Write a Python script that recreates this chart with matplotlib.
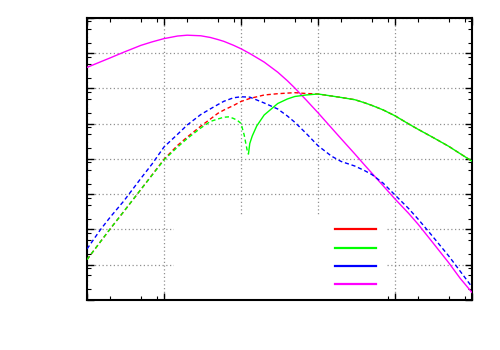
import numpy as np
import matplotlib
matplotlib.use("Agg")
import matplotlib.pyplot as plt
from matplotlib.lines import Line2D
from matplotlib.patches import Rectangle
from matplotlib.ticker import LogLocator, NullFormatter

# shared x values (red, blue, magenta)
x = [1, 1.5, 2, 3, 5, 7, 10, 15, 20, 30, 40, 50, 60, 80, 100, 130, 200, 300,
     400, 500, 700, 1000, 1500, 2000, 3000, 4000, 5000, 7000, 10000, 15000,
     20000, 30000, 50000, 70000, 100000]

red_y = [1.40e-5, 4.54e-5, 1.04e-4, 3.22e-4, 1.36e-3, 3.54e-3, 9.79e-3, 0.0243,
         0.0418, 0.0851, 0.136, 0.197, 0.245, 0.330, 0.428, 0.520, 0.654, 0.711,
         0.740, 0.760, 0.721, 0.698, 0.612, 0.556, 0.481, 0.395, 0.332, 0.247,
         0.168, 0.0991, 0.0692, 0.0427, 0.0228, 0.0142, 0.00867]

blue_y = [2.80e-5, 1.00e-4, 2.23e-4, 6.40e-4, 2.80e-3, 7.21e-3, 0.0219, 0.0502,
          0.092, 0.182, 0.264, 0.349, 0.434, 0.545, 0.582, 0.568, 0.388, 0.262,
          0.166, 0.110, 0.0536, 0.0238, 0.0120, 0.00849, 0.00632, 0.00472,
          0.00363, 0.00207, 9.53e-4, 3.94e-4, 1.96e-4, 6.84e-5, 1.76e-5,
          6.61e-6, 2.34e-6]

magenta_y = [3.97, 5.71, 7.38, 10.7, 16.7, 21.0, 26.0, 30.8, 32.5, 31.3, 28.0,
             24.5, 21.7, 16.8, 13.4, 9.84, 5.61, 2.90, 1.66, 1.03, 0.475, 0.205,
             0.0757, 0.0374, 0.0140, 0.00684, 0.00398, 0.00175, 7.33e-4,
             2.88e-4, 1.40e-4, 4.62e-5, 1.13e-5, 4.15e-6, 1.63e-6]

# green has its own x (sharp dip near x=125)
green_x = [1, 1.5, 2, 3, 5, 7, 10, 15, 20, 30, 40, 50, 60, 70, 80, 90, 100, 110,
           120, 125, 130, 140, 160, 200, 300, 400, 500, 700, 1000, 1500, 2000,
           3000, 4000, 5000, 7000, 10000, 15000, 20000, 30000, 50000, 70000,
           100000]
green_y = [1.40e-5, 4.54e-5, 1.04e-4, 3.22e-4, 1.36e-3, 3.47e-3, 9.38e-3, 0.0218,
           0.0379, 0.0757, 0.116, 0.136, 0.153, 0.157, 0.141, 0.124, 0.102,
           0.0480, 0.0180, 0.0139, 0.0275, 0.0449, 0.0863, 0.177, 0.375, 0.504,
           0.593, 0.654, 0.698, 0.612, 0.556, 0.481, 0.395, 0.332, 0.247, 0.168,
           0.0991, 0.0692, 0.0427, 0.0228, 0.0142, 0.00867]

colors = {"red": "#ff0000", "green": "#00ff00", "blue": "#0000ff", "magenta": "#ff00ff"}

fig = plt.figure(figsize=(5, 3.5), dpi=100)
ax = fig.add_axes([0.174, 0.1429, 0.77, 0.8057])
ax.set_xscale("log")
ax.set_yscale("log")
ax.set_xlim(1, 1e5)
ax.set_ylim(1e-6, 1e2)

# local minimum of the green curve (the dip): dashed before, solid after
gy = np.array(green_y)
local_min = [i for i in range(1, len(gy) - 1) if gy[i] < gy[i - 1] and gy[i] < gy[i + 1]]
split = local_min[0]

dash = (0, (3, 2))
ax.plot(x, magenta_y, color=colors["magenta"], lw=1.0, zorder=3)
ax.plot(x, red_y, color=colors["red"], lw=1.0, linestyle=dash, zorder=3)
ax.plot(green_x[:split + 1], green_y[:split + 1], color=colors["green"], lw=1.0,
        linestyle=dash, zorder=4)
ax.plot(green_x[split:], green_y[split:], color=colors["green"], lw=1.0, zorder=4)
ax.plot(x, blue_y, color=colors["blue"], lw=1.0, linestyle=dash, zorder=3)

# grid
ax.grid(True, which="major", color="#909090", linestyle=(0, (1, 2)), linewidth=0.9)
ax.set_axisbelow(True)

# key area (occludes grid like gnuplot key)
ax.add_patch(Rectangle((0.226, 0.0), 0.548, 0.301, transform=ax.transAxes,
                       facecolor="white", edgecolor="none", zorder=1))

handles = [Line2D([], [], color=colors[c], lw=1.6) for c in ["red", "green", "blue", "magenta"]]
leg = ax.legend(handles, ["", "", "", ""], loc="upper left",
                bbox_to_anchor=(0.644, 0.272), frameon=False, fontsize=10,
                handlelength=2.95, handletextpad=0.0, borderpad=0.0,
                borderaxespad=0.0, labelspacing=0.31)

# ticks
for axis in (ax.xaxis, ax.yaxis):
    axis.set_major_locator(LogLocator(base=10, numticks=20))
    axis.set_minor_locator(LogLocator(base=10, subs=(2, 5, 8), numticks=20))
    axis.set_major_formatter(NullFormatter())
    axis.set_minor_formatter(NullFormatter())
ax.tick_params(which="both", direction="in", top=True, right=True, color="black")
ax.tick_params(which="major", length=5, width=1.0)
ax.tick_params(which="minor", length=3, width=0.8)
for s in ax.spines.values():
    s.set_linewidth(1.5)

fig.savefig("out.png", dpi=100)
